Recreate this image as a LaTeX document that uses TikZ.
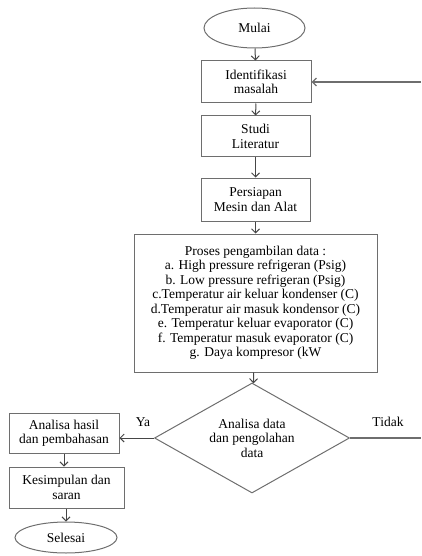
\documentclass[tikz,border=0pt]{standalone}
\usepackage{fontspec}
\setmainfont{Liberation Serif}
\usetikzlibrary{shapes.geometric,arrows.meta}
\definecolor{garis}{RGB}{110,110,110}
\definecolor{panah}{RGB}{70,70,70}
\tikzset{
  kotak/.style={draw=garis, line width=1pt, rectangle, align=center, inner sep=2pt},
  oval/.style={draw=garis, line width=1pt, ellipse, inner sep=0pt},
  belah/.style={draw=garis, line width=1pt, diamond, aspect=1.77, inner sep=0pt,
    minimum width=195pt, minimum height=110pt, align=center},
  label/.style={align=center, inner sep=1pt},
  alir/.style={draw=panah, line width=1pt, -{Straight Barb[length=4pt,width=8pt]}},
}
\begin{document}
\begin{tikzpicture}[x=1pt, y=-1pt, font=\fontsize{13.5}{14.5}\selectfont]
\useasboundingbox (0,0) rectangle (421,556);
% alur utama
\node[oval, minimum width=101pt, minimum height=40pt] (mulai) at (254.5,28) {Mulai};
\node[kotak, minimum width=110pt, minimum height=42pt] (identifikasi) at (256,82) {Identifikasi\\masalah};
\node[kotak, minimum width=109pt, minimum height=41pt] (studi) at (255.5,136.5) {Studi\\Literatur};
\node[kotak, minimum width=109pt, minimum height=43pt] (persiapan) at (255.5,199.5) {Persiapan\\Mesin dan Alat};
\node[kotak, minimum width=243pt, minimum height=138pt] (proses) at (255.5,303) {Proses pengambilan data :\\
  a. High pressure refrigeran (Psig)\\
  b. Low pressure refrigeran (Psig)\\
  c.Temperatur air keluar kondenser (C)\\
  d.Temperatur air masuk kondensor (C)\\
  e. Temperatur keluar evaporator (C)\\
  f. Temperatur masuk evaporator (C)\\
  g. Daya kompresor (kW};
\node[belah] (analisa) at (252,438) {Analisa data\\dan pengolahan\\data};
% cabang kiri
\node[kotak, minimum width=110pt, minimum height=40pt] (hasil) at (64,433) {Analisa hasil\\dan pembahasan};
\node[kotak, minimum width=115pt, minimum height=41pt] (kesimpulan) at (66.5,487.5) {Kesimpulan dan\\saran};
\node[oval, minimum width=102pt, minimum height=31pt] (selesai) at (66,537.5) {Selesai};
\node[label] (ya) at (143,422) {Ya};
\node[label] (tidak) at (388,422) {Tidak};
\coordinate (tidakend) at (421,438);
\coordinate (balik) at (421,82);
% panah
\draw[alir] (mulai) -- (identifikasi);
\draw[alir] (identifikasi) -- (studi);
\draw[alir] (studi) -- (persiapan);
\draw[alir] (persiapan) -- (proses);
\draw[alir] (proses) -- (analisa);
\draw[alir] (analisa.west) -- (analisa.west -| hasil.east);
\draw[alir] (hasil) -- (hasil |- kesimpulan.north);
\draw[alir] (kesimpulan.south -| selesai) -- (selesai);
\draw[draw=garis, line width=1.2pt] (analisa.east) -- (tidakend);
\draw[alir, line width=1.4pt, draw=garis] (balik) -- (identifikasi.east);
\end{tikzpicture}
\end{document}
